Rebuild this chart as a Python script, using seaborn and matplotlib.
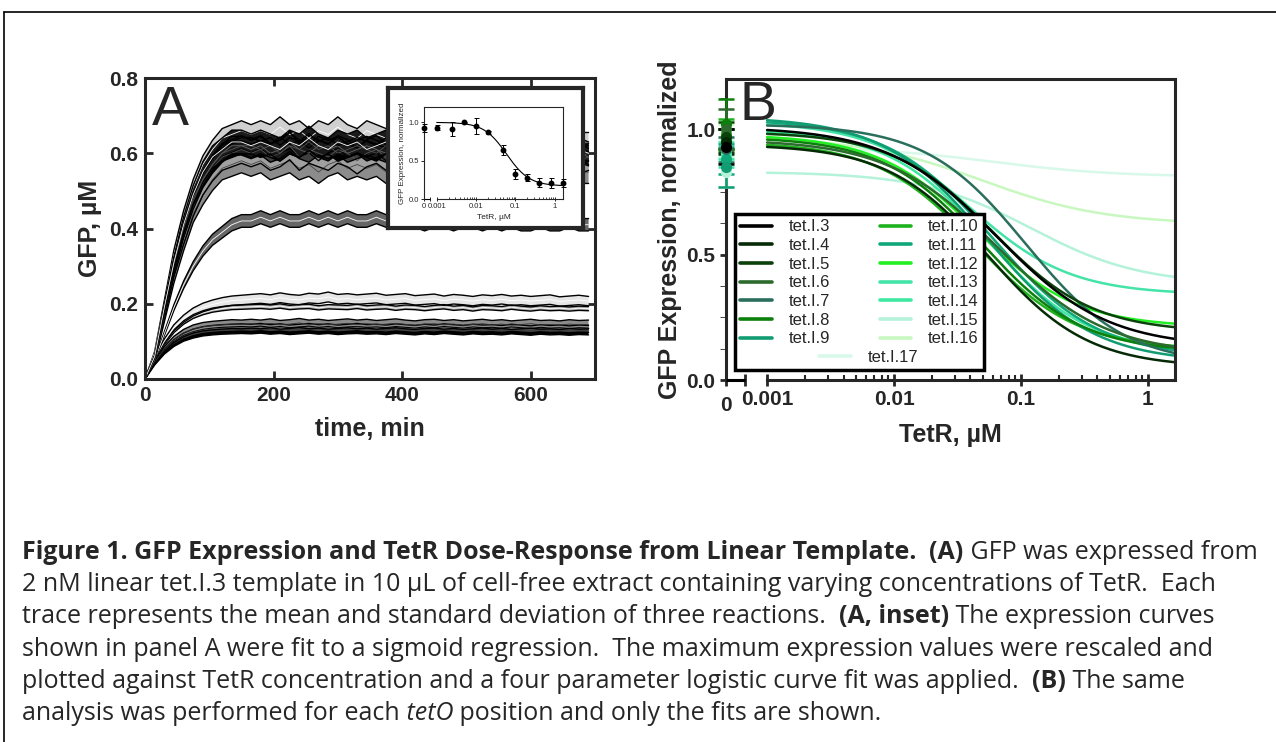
import numpy as np
import pandas as pd
import matplotlib
matplotlib.use("Agg")
import matplotlib.pyplot as plt
from matplotlib.lines import Line2D
from matplotlib.ticker import NullFormatter
import seaborn as sns

sns.set_style("ticks")
plt.rcParams['font.family'] = ['Liberation Sans', 'DejaVu Sans']

# ---- Panel A: GFP time courses (mean of 3 reactions, one trace per TetR level)
time_min = [0, 15, 30, 45, 60, 75, 90, 105, 120, 135, 150, 165,
            180, 195, 210, 225, 240, 255, 270, 285, 300, 315, 330, 345,
            360, 375, 390, 405, 420, 435, 450, 465, 480, 495, 510, 525,
            540, 555, 570, 585, 600, 615, 630, 645, 660, 675, 690]

gfp_0 = [0.00, 0.06, 0.18, 0.30, 0.40, 0.48, 0.53, 0.57, 0.60, 0.61, 0.62, 0.62,
         0.61, 0.62, 0.60, 0.62, 0.61, 0.63, 0.61, 0.62, 0.60, 0.61, 0.62, 0.61,
         0.60, 0.62, 0.61, 0.60, 0.61, 0.62, 0.60, 0.61, 0.60, 0.62, 0.60, 0.61,
         0.59, 0.61, 0.60, 0.61, 0.59, 0.60, 0.61, 0.59, 0.60, 0.59, 0.60]
gfp_0001 = [0.00, 0.05, 0.17, 0.29, 0.39, 0.47, 0.53, 0.57, 0.60, 0.62, 0.62, 0.61,
            0.62, 0.60, 0.61, 0.63, 0.61, 0.60, 0.62, 0.61, 0.62, 0.60, 0.61, 0.62,
            0.61, 0.60, 0.62, 0.61, 0.59, 0.61, 0.62, 0.60, 0.61, 0.60, 0.61, 0.59,
            0.61, 0.60, 0.59, 0.61, 0.60, 0.60, 0.59, 0.61, 0.59, 0.60, 0.59]
gfp_00025 = [0.00, 0.06, 0.17, 0.29, 0.38, 0.46, 0.52, 0.56, 0.59, 0.60, 0.61, 0.60,
             0.61, 0.59, 0.60, 0.62, 0.59, 0.61, 0.60, 0.59, 0.61, 0.60, 0.58, 0.60,
             0.61, 0.59, 0.60, 0.58, 0.60, 0.61, 0.59, 0.60, 0.58, 0.60, 0.59, 0.60,
             0.58, 0.59, 0.60, 0.58, 0.59, 0.58, 0.60, 0.58, 0.59, 0.58, 0.59]
gfp_0005 = [0.00, 0.07, 0.20, 0.33, 0.43, 0.51, 0.57, 0.61, 0.64, 0.65, 0.66, 0.65,
            0.66, 0.65, 0.67, 0.65, 0.66, 0.64, 0.66, 0.65, 0.67, 0.65, 0.64, 0.66,
            0.65, 0.64, 0.66, 0.65, 0.64, 0.65, 0.63, 0.65, 0.64, 0.66, 0.64, 0.63,
            0.65, 0.64, 0.63, 0.64, 0.65, 0.63, 0.64, 0.62, 0.64, 0.63, 0.63]
gfp_001 = [0.00, 0.06, 0.19, 0.31, 0.41, 0.49, 0.55, 0.59, 0.61, 0.63, 0.63, 0.62,
           0.63, 0.62, 0.61, 0.63, 0.62, 0.64, 0.62, 0.61, 0.63, 0.62, 0.63, 0.61,
           0.62, 0.63, 0.61, 0.62, 0.60, 0.62, 0.63, 0.61, 0.62, 0.61, 0.62, 0.60,
           0.62, 0.61, 0.60, 0.62, 0.61, 0.60, 0.61, 0.62, 0.60, 0.61, 0.60]
gfp_002 = [0.00, 0.05, 0.16, 0.27, 0.36, 0.44, 0.49, 0.53, 0.56, 0.57, 0.58, 0.57,
           0.58, 0.56, 0.57, 0.58, 0.56, 0.57, 0.55, 0.57, 0.58, 0.56, 0.57, 0.56,
           0.57, 0.55, 0.57, 0.56, 0.58, 0.56, 0.55, 0.57, 0.56, 0.55, 0.57, 0.56,
           0.55, 0.56, 0.57, 0.55, 0.56, 0.55, 0.56, 0.54, 0.56, 0.55, 0.55]
gfp_005 = [0.00, 0.05, 0.12, 0.19, 0.25, 0.30, 0.34, 0.37, 0.39, 0.41, 0.42, 0.42,
           0.43, 0.42, 0.43, 0.42, 0.42, 0.43, 0.42, 0.43, 0.42, 0.43, 0.42, 0.42,
           0.43, 0.42, 0.42, 0.43, 0.42, 0.41, 0.42, 0.42, 0.41, 0.42, 0.42, 0.41,
           0.42, 0.41, 0.42, 0.41, 0.41, 0.42, 0.41, 0.41, 0.42, 0.41, 0.41]
gfp_01 = [0.000, 0.055, 0.100, 0.136, 0.160, 0.178, 0.190, 0.198, 0.204, 0.208, 0.210, 0.212,
          0.214, 0.211, 0.216, 0.212, 0.210, 0.215, 0.213, 0.218, 0.212, 0.214, 0.211, 0.213,
          0.215, 0.210, 0.212, 0.214, 0.209, 0.211, 0.213, 0.208, 0.212, 0.210, 0.207, 0.211,
          0.209, 0.212, 0.208, 0.210, 0.207, 0.209, 0.211, 0.206, 0.208, 0.210, 0.207]
gfp_02 = [0.000, 0.052, 0.094, 0.127, 0.150, 0.166, 0.176, 0.183, 0.187, 0.190, 0.191, 0.192,
          0.193, 0.191, 0.194, 0.190, 0.192, 0.193, 0.189, 0.192, 0.191, 0.190, 0.193, 0.189,
          0.191, 0.192, 0.188, 0.191, 0.190, 0.187, 0.190, 0.192, 0.188, 0.190, 0.186, 0.190,
          0.189, 0.187, 0.191, 0.188, 0.186, 0.189, 0.187, 0.188, 0.186, 0.188, 0.187]
gfp_04 = [0.000, 0.045, 0.080, 0.105, 0.122, 0.133, 0.139, 0.142, 0.144, 0.146, 0.145, 0.147,
          0.145, 0.148, 0.144, 0.146, 0.149, 0.145, 0.147, 0.144, 0.146, 0.148, 0.145, 0.147,
          0.144, 0.146, 0.148, 0.145, 0.143, 0.146, 0.147, 0.144, 0.146, 0.143, 0.145, 0.147,
          0.144, 0.146, 0.143, 0.145, 0.147, 0.144, 0.145, 0.143, 0.146, 0.144, 0.145]
gfp_08 = [0.000, 0.042, 0.075, 0.098, 0.114, 0.124, 0.130, 0.133, 0.135, 0.136, 0.137, 0.136,
          0.138, 0.135, 0.137, 0.134, 0.136, 0.138, 0.135, 0.137, 0.134, 0.136, 0.138, 0.135,
          0.136, 0.134, 0.137, 0.135, 0.133, 0.136, 0.134, 0.137, 0.135, 0.133, 0.136, 0.134,
          0.135, 0.133, 0.136, 0.134, 0.132, 0.135, 0.133, 0.134, 0.132, 0.134, 0.133]
gfp_16 = [0.000, 0.040, 0.071, 0.093, 0.108, 0.117, 0.123, 0.126, 0.128, 0.129, 0.130, 0.129,
          0.131, 0.128, 0.130, 0.127, 0.129, 0.131, 0.128, 0.130, 0.127, 0.129, 0.130, 0.128,
          0.129, 0.127, 0.130, 0.128, 0.126, 0.129, 0.127, 0.130, 0.128, 0.126, 0.129, 0.127,
          0.128, 0.126, 0.129, 0.127, 0.125, 0.128, 0.126, 0.127, 0.125, 0.127, 0.126]

traces = {'0': gfp_0, '0.001': gfp_0001, '0.0025': gfp_00025, '0.005': gfp_0005,
          '0.01': gfp_001, '0.02': gfp_002, '0.05': gfp_005, '0.1': gfp_01,
          '0.2': gfp_02, '0.4': gfp_04, '0.8': gfp_08, '1.6': gfp_16}
# relative standard deviation of each trace
trace_cv = {'0': 0.035, '0.001': 0.04, '0.0025': 0.06, '0.005': 0.04, '0.01': 0.05,
            '0.02': 0.055, '0.05': 0.04, '0.1': 0.06, '0.2': 0.03, '0.4': 0.08,
            '0.8': 0.07, '1.6': 0.07}
trace_fill = {'0': '#000000', '0.001': '#404040', '0.0025': '#a0a0a0', '0.005': '#d0d0d0',
              '0.01': '#1a1a1a', '0.02': '#8c8c8c', '0.05': '#666666', '0.1': '#e6e6e6',
              '0.2': '#b0b0b0', '0.4': '#8c8c8c', '0.8': '#404040', '1.6': '#000000'}
trace_line = {'0': '#555555', '0.001': '#666666', '0.0025': '#555555', '0.005': '#ffffff',
              '0.01': '#ffffff', '0.02': '#444444', '0.05': '#ffffff', '0.1': '#ffffff',
              '0.2': '#ffffff', '0.4': '#333333', '0.8': '#555555', '1.6': '#444444'}
draw_order = ['1.6', '0.8', '0.4', '0.2', '0.1', '0.05', '0.02', '0.0025', '0.005',
              '0.001', '0', '0.01']

# ---- Inset: normalized maximum expression vs TetR
inset_tetr = [0, 0.001, 0.0025, 0.005, 0.01, 0.02, 0.05, 0.1, 0.2, 0.4, 0.8, 1.6]
inset_gfp = [0.93, 0.93, 0.91, 1.00, 0.95, 0.87, 0.64, 0.33, 0.28, 0.215, 0.21, 0.21]
inset_err = [0.05, 0.03, 0.09, 0.01, 0.10, 0.02, 0.06, 0.065, 0.05, 0.055, 0.065, 0.05]
inset_fit = dict(top=1.0, bottom=0.17, ic50=0.06, hill=1.5)

# ---- Panel B: four parameter logistic fits per tetO position
constructs = ['tet.I.3', 'tet.I.4', 'tet.I.5', 'tet.I.6', 'tet.I.7', 'tet.I.8', 'tet.I.9',
              'tet.I.10', 'tet.I.11', 'tet.I.12', 'tet.I.13', 'tet.I.14', 'tet.I.15',
              'tet.I.16', 'tet.I.17']
fit_top = [1.01, 0.94, 0.99, 0.96, 1.02, 0.97, 1.05, 0.95, 1.04, 0.98, 1.03, 1.00, 0.83, 0.97, 0.93]
fit_bottom = [0.13, 0.05, 0.19, 0.10, 0.06, 0.11, 0.07, 0.12, 0.09, 0.21, 0.34, 0.11, 0.38, 0.62, 0.81]
fit_ic50 = [0.065, 0.055, 0.06, 0.065, 0.11, 0.05, 0.055, 0.045, 0.06, 0.045, 0.04, 0.055, 0.12, 0.05, 0.06]
fit_hill = [1.0, 1.1, 1.1, 1.0, 1.1, 1.1, 1.05, 1.1, 1.05, 1.1, 1.1, 1.1, 1.0, 0.9, 0.9]
zero_mean = [0.93, 0.95, 0.97, 1.00, 0.92, 1.02, 0.85, 0.98, 0.88, 0.96, 0.90, 0.94, 0.83, 0.97, 0.92]
zero_sd = [0.07, 0.05, 0.06, 0.08, 0.05, 0.10, 0.08, 0.06, 0.06, 0.04, 0.05, 0.06, 0.06, 0.05, 0.04]
construct_colors = ['#000000', '#062a06', '#0b420b', '#2d6a2d', '#2a6e5c', '#0b800b', '#129c72',
                    '#1fb21f', '#10a87a', '#22f022', '#44e4a8', '#3ee8a0', '#b4f2da',
                    '#c8f8c0', '#d8f8ea']

caption_lines = [
    [("Figure 1. GFP Expression and TetR Dose-Response from Linear Template.", 'bold', 'normal'),
     ("  (A)", 'bold', 'normal'), (" GFP was expressed from", 'normal', 'normal')],
    [("2 nM linear tet.I.3 template in 10 \u00b5L of cell-free extract containing varying "
      "concentrations of TetR.  Each", 'normal', 'normal')],
    [("trace represents the mean and standard deviation of three reactions.", 'normal', 'normal'),
     ("  (A, inset)", 'bold', 'normal'), (" The expression curves", 'normal', 'normal')],
    [("shown in panel A were fit to a sigmoid regression.  The maximum expression values "
      "were rescaled and", 'normal', 'normal')],
    [("plotted against TetR concentration and a four parameter logistic curve fit was applied.",
      'normal', 'normal'), ("  (B)", 'bold', 'normal'), (" The same", 'normal', 'normal')],
    [("analysis was performed for each", 'normal', 'normal'), (" tetO", 'normal', 'italic'),
     (" position and only the fits are shown.", 'normal', 'normal')],
]


def logistic4(x, top, bottom, ic50, hill):
    return bottom + (top - bottom) / (1 + (x / ic50) ** hill)


W, H = 1276, 742


def fbox(l, t, r, b):
    return [l / W, 1 - b / H, (r - l) / W, (b - t) / H]


fig = plt.figure(figsize=(W / 100, H / 100), dpi=100)

# ------------------------------------------------------------------ panel A
axA = fig.add_axes(fbox(145, 78, 595, 379))
t = np.array(time_min)
for key in draw_order:
    m = np.array(traces[key])
    cv = trace_cv[key]
    axA.fill_between(t, m * (1 - cv), m * (1 + cv), facecolor=trace_fill[key], edgecolor='none')
    axA.plot(t, m * (1 - cv), color='k', lw=1.0)
    axA.plot(t, m * (1 + cv), color='k', lw=1.0)
    sns.lineplot(x=t, y=m, color=trace_line[key], lw=0.6, ax=axA)
axA.set_xlim(0, 700)
axA.set_ylim(0, 0.8)
axA.set_xticks([0, 200, 400, 600])
axA.set_yticks([0, 0.2, 0.4, 0.6, 0.8])
axA.set_yticklabels(['0.0', '0.2', '0.4', '0.6', '0.8'])
axA.tick_params(direction='in', length=6, width=2, top=True, right=True, labelsize=15, pad=5)
for lbl in axA.get_xticklabels() + axA.get_yticklabels():
    lbl.set_fontweight('bold')
for sp in axA.spines.values():
    sp.set_linewidth(2.2)
axA.set_xlabel('time, min', fontsize=18, fontweight='bold', labelpad=9)
axA.set_ylabel('GFP, \u00b5M', fontsize=18, fontweight='bold', labelpad=5)
axA.text(0.016, 0.844, 'A', transform=axA.transAxes, fontsize=40, va='baseline', ha='left')

# inset frame and inset axes
fr = fig.add_axes(fbox(388, 88, 583, 228))
fr.set_xticks([])
fr.set_yticks([])
fr.set_facecolor('white')
for sp in fr.spines.values():
    sp.set_linewidth(3)

xmin, xmax = 10 ** -3.3236, 10 ** 0.213
xbreak = 10 ** -3.174
minor_x = [k * 10.0 ** n for n in range(-3, 1) for k in range(2, 10) if k * 10.0 ** n < xmax]

ins = fig.add_axes(fbox(424, 107, 563, 199))
ins.set_xscale('log')
xf = np.geomspace(0.001, 1.6, 200)
sns.lineplot(x=xf, y=logistic4(xf, **inset_fit), color='k', lw=0.8, ax=ins)
ix = [xmin if v == 0 else v for v in inset_tetr]
ins.errorbar(ix, inset_gfp, yerr=inset_err, fmt='o', color='k', ms=3.2, elinewidth=0.7,
             capsize=1.8, capthick=0.7, clip_on=False, zorder=4)
ins.set_xlim(xmin, xmax)
ins.set_ylim(0, 1.2)
ins.spines['bottom'].set_bounds(0.001, xmax)
ins.plot([xmin, xbreak], [0, 0], color='k', lw=0.8, clip_on=False, solid_capstyle='butt')
ins.set_xticks([xmin, xbreak, 0.001, 0.01, 0.1, 1])
ins.set_xticklabels(['0', '', '0.001', '0.01', '0.1', '1'])
ins.set_xticks(minor_x, minor=True)
ins.xaxis.set_minor_formatter(NullFormatter())
ins.set_yticks([0, 0.5, 1.0])
ins.set_yticklabels(['0.0', '0.5', '1.0'])
ins.tick_params(axis='both', labelsize=5.5, width=0.7, pad=1.5)
ins.tick_params(axis='x', which='major', direction='inout', length=3)
ins.tick_params(axis='x', which='minor', direction='in', length=1.5, width=0.6)
ins.tick_params(axis='y', direction='out', length=2)
for sp in ins.spines.values():
    sp.set_linewidth(0.8)
ins.set_xlabel('TetR, \u00b5M', fontsize=6, labelpad=3)
ins.set_ylabel('GFP Expression, normalized', fontsize=5.8, labelpad=2)

# ------------------------------------------------------------------ panel B
axB = fig.add_axes(fbox(726, 79, 1175, 380))
axB.set_xscale('log')
xg = np.geomspace(0.001, xmax, 300)
fit_rows = []
for i, name in enumerate(constructs):
    yv = logistic4(xg, fit_top[i], fit_bottom[i], fit_ic50[i], fit_hill[i])
    fit_rows.append(pd.DataFrame({'tetr': xg, 'gfp': yv, 'construct': name}))
fits = pd.concat(fit_rows, ignore_index=True)
palette = dict(zip(constructs, construct_colors))
sns.lineplot(data=fits, x='tetr', y='gfp', hue='construct', hue_order=constructs[::-1],
             palette=palette, lw=1.8, estimator=None, legend=False, ax=axB)
for i in range(len(constructs) - 1, -1, -1):
    axB.errorbar([xmin], [zero_mean[i]], yerr=[zero_sd[i]], fmt='o', color=construct_colors[i],
                 ms=7, elinewidth=1.8, capsize=6, capthick=1.8, clip_on=False, zorder=4)
axB.set_xlim(xmin, xmax)
axB.set_ylim(0, 1.2)
axB.spines['bottom'].set_bounds(0.001, xmax)
axB.plot([xmin, xbreak], [0, 0], color='k', lw=2.2, clip_on=False, solid_capstyle='butt', zorder=5)
axB.set_xticks([xmin, xbreak, 0.001, 0.01, 0.1, 1])
axB.set_xticklabels(['0', '', '0.001', '0.01', '0.1', '1'])
axB.set_xticks(minor_x, minor=True)
axB.xaxis.set_minor_formatter(NullFormatter())
axB.set_yticks([0, 0.5, 1.0])
axB.set_yticklabels(['0.0', '0.5', '1.0'])
axB.set_yticks([0.125, 0.25, 0.375, 0.625, 0.75, 0.875, 1.125], minor=True)
axB.tick_params(axis='both', labelsize=15, width=2)
axB.tick_params(axis='x', which='major', direction='inout', length=9, pad=3)
axB.tick_params(axis='x', which='minor', direction='in', length=3.5, width=1.5)
axB.tick_params(axis='y', which='both', direction='out', length=4)
for lbl in axB.get_xticklabels() + axB.get_yticklabels():
    lbl.set_fontweight('bold')
for sp in axB.spines.values():
    sp.set_linewidth(2.2)
# the "0" of the broken axis sits a little lower than the log labels
axB.xaxis.get_major_ticks()[0].set_pad(7)
axB.set_xlabel('TetR, \u00b5M', fontsize=18, fontweight='bold', labelpad=6)
axB.set_ylabel('GFP Expression, normalized', fontsize=18, fontweight='bold', labelpad=3)
axB.text(0.031, 0.864, 'B', transform=axB.transAxes, fontsize=40, va='baseline', ha='left')

handles = [Line2D([0], [0], color=c, lw=2.6) for c in construct_colors]
blank = Line2D([], [], color='none')
leg = axB.legend(handles[0:7] + [blank] + handles[7:14] + [blank],
                 constructs[0:7] + [' '] + constructs[7:14] + [' '],
                 ncol=2, loc='lower left', bbox_to_anchor=(0.02, 0.033), fontsize=12,
                 frameon=True, fancybox=False, edgecolor='k', framealpha=1,
                 handlelength=1.9, handletextpad=1.0, columnspacing=3.0,
                 labelspacing=0.22, borderpad=0.3, borderaxespad=0)
leg.get_frame().set_linewidth(2.5)
axB.add_artist(leg)
axB.legend([handles[14]], [constructs[14]], loc='center', bbox_to_anchor=(0.318, 0.075),
           frameon=False, fontsize=12, handlelength=1.9, handletextpad=1.0,
           borderpad=0, borderaxespad=0)

# ------------------------------------------------------------------ caption
renderer = fig.canvas.get_renderer()
cap_font = ['Open Sans', 'DejaVu Sans']
cap_baselines = [559, 591, 623, 656, 688, 720]
for y0, runs in zip(cap_baselines, caption_lines):
    x = 22
    for s, weight, style in runs:
        txt = fig.text(x / W, 1 - y0 / H, s, fontsize=18.0, fontweight=weight, fontstyle=style,
                       family=cap_font, va='baseline', ha='left')
        x = txt.get_window_extent(renderer=renderer).x1

# figure border
fig.add_artist(Line2D([4 / W, 4 / W], [0, 1 - 12 / H], color='k', lw=1.2))
fig.add_artist(Line2D([4 / W, 1], [1 - 12 / H, 1 - 12 / H], color='k', lw=1.2))

fig.savefig('out.png', dpi=100)
